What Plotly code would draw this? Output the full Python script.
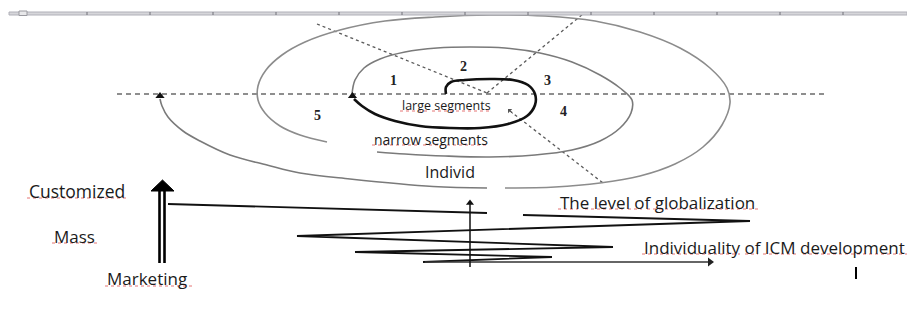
import plotly.graph_objects as go

W, H = 907, 315

# ---------------- data (pixel space) ----------------
# ruler at top
ruler_ticks_x = [87, 150, 213, 276, 339, 402, 465, 528, 591, 654, 717, 780, 843]

# spiral parts
inner_x = [446, 446, 451, 465, 490, 513, 528, 535, 535, 527, 508, 480, 450, 420, 395, 375, 362, 354]
inner_y = [94, 87, 82, 80, 79, 80, 85, 94, 105, 116, 124, 128, 128, 126, 121, 114, 106, 99]

middle_x = [352, 355, 364, 380, 405, 437, 470, 505, 540, 572, 600, 620, 632, 631, 620, 600, 572, 535, 490, 445, 405, 377]
middle_y = [94, 80, 68, 59, 52, 48, 47, 48, 53, 62, 75, 88, 100, 113, 128, 141, 150, 155, 157, 156, 154, 152]

outer_x = [327, 300, 280, 265, 258, 258, 266, 282, 305, 340, 385, 435, 490, 545, 595, 640, 680, 710, 727, 730, 722, 703, 675, 640, 600, 555, 505]
outer_y = [142, 135, 126, 113, 100, 86, 70, 55, 42, 30, 21, 17, 15, 16, 21, 32, 48, 68, 88, 103, 125, 147, 164, 176, 183, 187, 188]

arc_x = [487, 433, 350, 300, 267, 230, 200, 183, 168, 162, 160]
arc_y = [188, 186.5, 179, 173, 165, 155, 141, 131, 117, 106, 99]

# dashed guide lines
hdash_x = [117, 827]
hdash_y = [94, 94]
diag1_x = [317, 487]
diag1_y = [24, 93]
diag2_x = [487, 583]
diag2_y = [93, 14]
diag3_x = [510, 603]
diag3_y = [111, 183]

# lower part: globalization zig-zag
zigA_x = [168, 487]
zigA_y = [204, 213]
zigB_x = [523, 750, 297, 613, 355, 552, 423]
zigB_y = [215, 221, 236, 247, 252, 257, 262]
haxis_x = [425, 710]
haxis_y = [262, 262]
vaxis_x = [470, 470]
vaxis_y = [267, 204]

# thick double arrow
shaft1_x = [159.5, 159.5]
shaft2_x = [164.5, 164.5]
shaft_y = [190, 263]
head_x = [151, 162.5, 174, 151]
head_y = [191, 180, 191, 191]

# cursor mark
cursor_x = [856, 856]
cursor_y = [267, 279]

# text labels
label_text = ["Customized", "Mass", "Marketing", "The level of globalization",
              "Individuality of ICM development", "large segments", "narrow segments", "Individ"]
label_x = [27, 52, 105, 558, 642, 400, 372, 423]
label_y = [190.5, 236.5, 278, 202.5, 247, 105.5, 139, 172]
label_size = [17.5, 17, 17, 17, 17, 12.5, 14, 16]

num_text = ["1", "2", "3", "4", "5"]
num_x = [393, 463, 547, 563, 317]
num_y = [80.5, 66, 80.5, 111, 115]

# red spell-check underlines (word spans)
ul_x0 = [27, 52, 105, 558, 585, 628, 647, 642, 745, 763, 803, 400, 432, 372, 423]
ul_x1 = [128, 97, 193, 578, 623, 642, 758, 740, 758, 797, 907, 428, 490, 418, 487]
ul_y = [198, 243, 286, 209, 209, 209, 209, 254, 254, 254, 254, 111, 111, 145, 145]

# ---------------- figure ----------------
fig = go.Figure()

def line(x, y, color="black", width=1.5, dash=None, shape="linear"):
    fig.add_trace(go.Scatter(x=x, y=y, mode="lines",
                             line=dict(color=color, width=width, dash=dash, shape=shape, smoothing=1.0),
                             hoverinfo="skip"))

# ruler
fig.add_shape(type="rect", x0=9, x1=W, y0=12, y1=15, fillcolor="#d6d6da",
              line=dict(color="#b0b0b8", width=1))
fig.add_shape(type="rect", x0=19, x1=27, y0=11, y1=15.5, fillcolor="#e8e8ea",
              line=dict(color="#9a9aa0", width=1))
for tx in ruler_ticks_x:
    fig.add_shape(type="line", x0=tx, x1=tx, y0=12, y1=15, line=dict(color="#707078", width=1))

# dashed lines
line(hdash_x, hdash_y, "#6a6a6a", 1.3, "5px,4px")
line(diag1_x, diag1_y, "#5a5a5a", 1.3, "3px,3px")
line(diag2_x, diag2_y, "#5a5a5a", 1.3, "3px,3px")
line(diag3_x, diag3_y, "#5a5a5a", 1.3, "3px,3px")

# spiral
line(outer_x, outer_y, "#8c8c8c", 1.6, shape="spline")
line(arc_x, arc_y, "#7a7a7a", 1.6, shape="spline")
line(middle_x, middle_y, "#7a7a7a", 1.6, shape="spline")
line(inner_x, inner_y, "#111111", 2.6, shape="spline")

# arrowheads on the spiral
fig.add_trace(go.Scatter(x=[arc_x[-1], inner_x[-1] - 1.5], y=[arc_y[-1] - 3, inner_y[-1] - 3],
                         mode="markers", marker=dict(symbol="triangle-up", size=8, color="#111111"),
                         hoverinfo="skip"))
fig.add_annotation(x=diag3_x[0] - 2, y=diag3_y[0] - 2, ax=diag3_x[0] + 4, ay=diag3_y[0] + 4,
                   xref="x", yref="y", axref="x", ayref="y", showarrow=True,
                   arrowhead=1, arrowsize=1, arrowwidth=1, arrowcolor="#555555", text="")

# zig-zag
line(zigA_x, zigA_y, "#111111", 1.8)
line(zigB_x, zigB_y, "#111111", 1.8)
line(haxis_x, haxis_y, "#333333", 1.3)
line(vaxis_x, vaxis_y, "#111111", 1.5)
fig.add_trace(go.Scatter(x=[haxis_x[1]], y=[haxis_y[1]], mode="markers",
                         marker=dict(symbol="triangle-right", size=8, color="#222222"), hoverinfo="skip"))
fig.add_trace(go.Scatter(x=[vaxis_x[1]], y=[vaxis_y[1] - 1], mode="markers",
                         marker=dict(symbol="triangle-up", size=7, color="#111111"), hoverinfo="skip"))

# thick double arrow
line(shaft1_x, shaft_y, "#000000", 2.6)
line(shaft2_x, shaft_y, "#000000", 2.6)
fig.add_trace(go.Scatter(x=head_x, y=head_y, mode="lines", fill="toself", fillcolor="#000000",
                         line=dict(color="#000000", width=1), hoverinfo="skip"))

# cursor
line(cursor_x, cursor_y, "#000000", 2)

# red underlines
for a, b, yy in zip(ul_x0, ul_x1, ul_y):
    line([a, b], [yy, yy], "rgba(220,70,70,0.75)", 1, "dot")

# labels
for t, x, y, s in zip(label_text, label_x, label_y, label_size):
    fig.add_annotation(x=x, y=y, text=t, showarrow=False, xanchor="left", yanchor="middle",
                       xref="x", yref="y", font=dict(family="Open Sans", size=s, color="#1a1a1a"))
for t, x, y in zip(num_text, num_x, num_y):
    fig.add_annotation(x=x, y=y, text="<b>" + t + "</b>", showarrow=False, xanchor="center",
                       yanchor="middle", xref="x", yref="y",
                       font=dict(family="Liberation Serif", size=14, color="#222222"))

fig.update_layout(width=W, height=H, margin=dict(l=0, r=0, t=0, b=0),
                  paper_bgcolor="white", plot_bgcolor="white", showlegend=False,
                  xaxis=dict(range=[0, W], visible=False, fixedrange=True),
                  yaxis=dict(range=[H, 0], visible=False, fixedrange=True))

fig.write_html("out.html", config={"displayModeBar": False},
               post_script="document.body.style.margin='0';document.body.style.overflow='hidden';")
